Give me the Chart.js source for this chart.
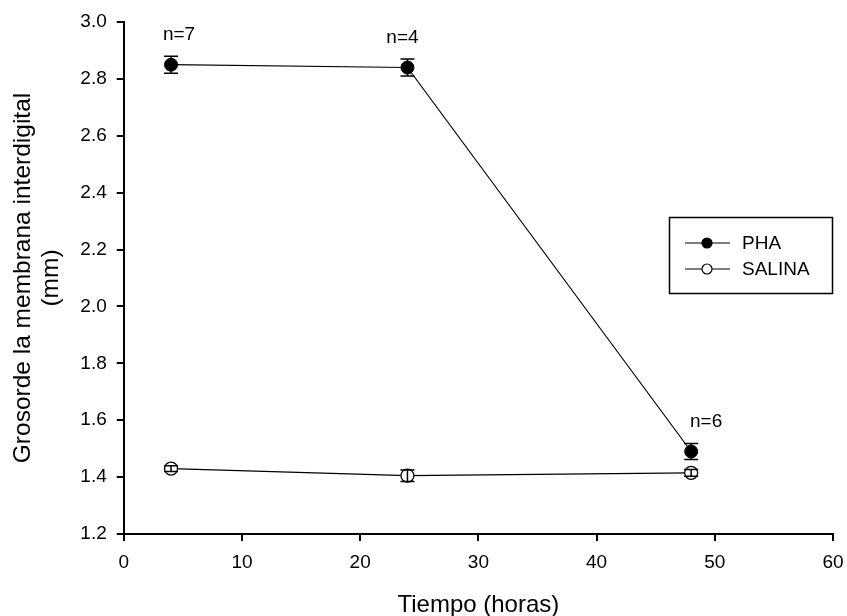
<!DOCTYPE html>
<html>
<head>
<meta charset="utf-8">
<script src="https://cdn.jsdelivr.net/npm/chart.js@4"></script>
<style>
  html, body { margin: 0; padding: 0; background: #fff; }
  #wrap { width: 847px; height: 616px; }
</style>
</head>
<body>
<div id="wrap"><canvas id="chart"></canvas></div>
<script>
    // datos
    const horas = [4, 24, 48];
    const phaMedia = [2.85, 2.84, 1.49];
    const phaError = [0.03, 0.03, 0.028];
    const salinaMedia = [1.43, 1.405, 1.415];
    const salinaError = [0.01, 0.02, 0.012];
    const nLabels = ['n=7', 'n=4', 'n=6'];
    const serieNombres = ['PHA', 'SALINA'];
    const xTicks = [0, 10, 20, 30, 40, 50, 60];
    const yTicks = [1.2, 1.4, 1.6, 1.8, 2.0, 2.2, 2.4, 2.6, 2.8, 3.0];

    const fuente = "'Liberation Sans', Arial, sans-serif";

    // barras de error
    const errorBars = {
        id: 'errorBars',
        afterDatasetsDraw(chart) {
            const ctx = chart.ctx;
            const xs = chart.scales.x, ys = chart.scales.y;
            const errs = [phaError, salinaError];
            ctx.save();
            ctx.strokeStyle = '#000';
            ctx.lineWidth = 1.5;
            chart.data.datasets.forEach((ds, i) => {
                ds.data.forEach((p, j) => {
                    const px = xs.getPixelForValue(p.x);
                    const top = ys.getPixelForValue(p.y + errs[i][j]);
                    const bot = ys.getPixelForValue(p.y - errs[i][j]);
                    ctx.beginPath();
                    ctx.moveTo(px, top); ctx.lineTo(px, bot);
                    ctx.moveTo(px - 7, top); ctx.lineTo(px + 7, top);
                    ctx.moveTo(px - 7, bot); ctx.lineTo(px + 7, bot);
                    ctx.stroke();
                });
            });
            ctx.restore();
        }
    };

    // etiquetas n= y leyenda con marco
    const extras = {
        id: 'extras',
        afterDraw(chart) {
            const ctx = chart.ctx;
            const xs = chart.scales.x, ys = chart.scales.y;
            const dx = [8, -5, 15];
            ctx.save();
            ctx.fillStyle = '#000';
            ctx.font = '19px ' + fuente;
            ctx.textAlign = 'center';
            ctx.textBaseline = 'middle';
            horas.forEach((h, j) => {
                ctx.fillText(nLabels[j], xs.getPixelForValue(h) + dx[j], ys.getPixelForValue(phaMedia[j]) - 30);
            });

            // leyenda
            ctx.strokeStyle = '#000';
            ctx.lineWidth = 1.5;
            ctx.strokeRect(669.5, 217.5, 163, 76);
            ctx.textAlign = 'left';
            chart.data.datasets.forEach((ds, i) => {
                const yy = 243 + i * 26;
                ctx.beginPath();
                ctx.lineWidth = 1.2;
                ctx.moveTo(685, yy); ctx.lineTo(730, yy);
                ctx.stroke();
                ctx.beginPath();
                ctx.arc(707, yy, 5, 0, Math.PI * 2);
                ctx.fillStyle = ds.pointBackgroundColor;
                ctx.fill();
                ctx.stroke();
                ctx.fillStyle = '#000';
                ctx.fillText(serieNombres[i], 742, yy + 1);
            });
            ctx.restore();
        }
    };

    const ctx = document.getElementById('chart').getContext('2d');
    const grosorChart = new Chart(ctx, {
        type: 'line',
        data: {
            datasets: [{
                label: serieNombres[0],
                data: horas.map((h, i) => ({ x: h, y: phaMedia[i] })),
                borderColor: '#000',
                borderWidth: 1.2,
                pointRadius: 6.5,
                pointBackgroundColor: '#000',
                pointBorderColor: '#000',
                pointBorderWidth: 1
            }, {
                label: serieNombres[1],
                data: horas.map((h, i) => ({ x: h, y: salinaMedia[i] })),
                borderColor: '#000',
                borderWidth: 1.2,
                pointRadius: 6.5,
                pointBackgroundColor: '#fff',
                pointBorderColor: '#000',
                pointBorderWidth: 1.3
            }]
        },
        options: {
            responsive: true,
            maintainAspectRatio: false,
            animation: false,
            layout: { padding: { top: 22, right: 0, left: 9, bottom: -1 } },
            plugins: {
                legend: { display: false },
                tooltip: { enabled: false }
            },
            scales: {
                x: {
                    type: 'linear',
                    min: 0, max: 60,
                    afterBuildTicks: s => { s.ticks = xTicks.map(v => ({ value: v })); },
                    afterFit: s => { s.paddingRight = 14; },
                    grid: { drawOnChartArea: false, drawTicks: true, tickLength: 7, color: '#000', lineWidth: 2 },
                    border: { color: '#000', width: 2 },
                    ticks: { color: '#000', font: { family: fuente, size: 19, lineHeight: 1.0 }, padding: 12 },
                    title: { display: true, text: 'Tiempo (horas)', color: '#000', font: { family: fuente, size: 24, lineHeight: 1.0 }, padding: { top: 9, bottom: 0 } }
                },
                y: {
                    min: 1.2, max: 3.0,
                    afterBuildTicks: s => { s.ticks = yTicks.map(v => ({ value: v })); },
                    grid: { drawOnChartArea: false, drawTicks: true, tickLength: 7, color: '#000', lineWidth: 2 },
                    border: { color: '#000', width: 2 },
                    ticks: { color: '#000', font: { family: fuente, size: 19 }, padding: 10, callback: v => v.toFixed(1) },
                    title: { display: true, text: ['Grosorde la membrana interdigital', '(mm)'], color: '#000', font: { family: fuente, size: 24.5, lineHeight: 1.15 }, padding: { top: 0, bottom: 5 } }
                }
            }
        },
        plugins: [errorBars, extras]
    });
</script>
</body>
</html>
